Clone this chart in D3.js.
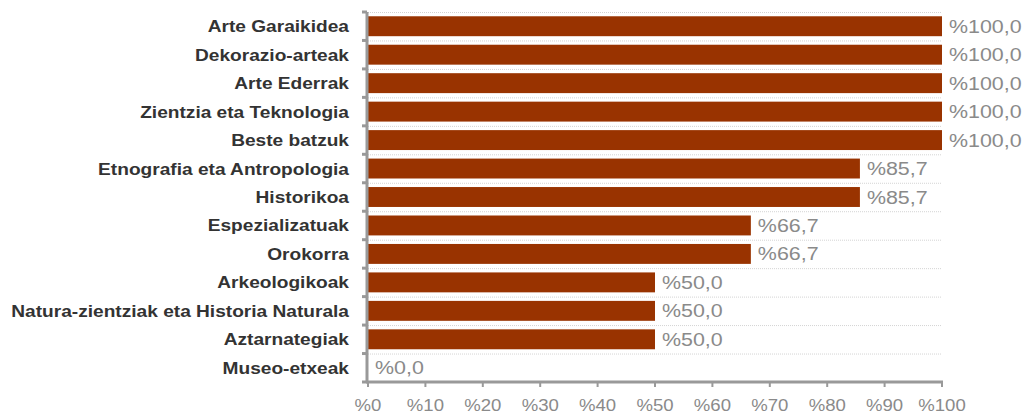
<!DOCTYPE html>
<html>
<head>
<meta charset="utf-8">
<script src="https://cdn.jsdelivr.net/npm/d3@7"></script>
<style>
  body { margin: 0; background: #fff; }
  text { font-family: Arial, "Liberation Sans", sans-serif; }
</style>
</head>
<body>
<div id="chart"></div>
<script>
// data
const categories = [
  "Arte Garaikidea", "Dekorazio-arteak", "Arte Ederrak", "Zientzia eta Teknologia",
  "Beste batzuk", "Etnografia eta Antropologia", "Historikoa", "Espezializatuak",
  "Orokorra", "Arkeologikoak", "Natura-zientziak eta Historia Naturala",
  "Aztarnategiak", "Museo-etxeak"
];
const values = [100, 100, 100, 100, 100, 85.7, 85.7, 66.7, 66.7, 50, 50, 50, 0];
const xTicks = [0, 10, 20, 30, 40, 50, 60, 70, 80, 90, 100];

const W = 1025, H = 414;
const margin = { top: 12, right: 83, bottom: 32, left: 368 },
      width = W - margin.left - margin.right,
      height = H - margin.top - margin.bottom;

const svg = d3.select("#chart").append("svg")
    .attr("width", W).attr("height", H)
  .append("g")
    .attr("transform", `translate(${margin.left},${margin.top})`);

const x = d3.scaleLinear().domain([0, 100]).range([0, width]);
const y = d3.scaleBand().domain(categories).range([0, height]).paddingInner(0.3).paddingOuter(0.15);

// gridlines at band boundaries
const bounds = d3.range(categories.length + 1).map(i => i * height / categories.length);
svg.selectAll(".grid").data(bounds.slice(0, -1)).enter().append("line")
    .attr("x1", 0).attr("x2", width)
    .attr("y1", d => d + 0.5).attr("y2", d => d + 0.5)
    .attr("stroke", "#d4d4d4").attr("stroke-dasharray", "1,1");

// bars
svg.selectAll(".bar").data(values).enter().append("rect")
    .attr("x", 0)
    .attr("y", (d, i) => y(categories[i]))
    .attr("width", d => x(d))
    .attr("height", y.bandwidth())
    .attr("fill", "#993300");

// value labels
svg.selectAll(".val").data(values).enter().append("text")
    .attr("transform", (d, i) => `translate(${x(d) + 7},${y(categories[i]) + y.bandwidth() / 2 + 6.5}) scale(1.19,1)`)
    .attr("font-size", 18)
    .attr("fill", "#8a8a8a")
    .text(d => "%" + d.toFixed(1).replace(".", ","));

// y axis
svg.append("line")
    .attr("x1", -1).attr("x2", -1).attr("y1", 0).attr("y2", height)
    .attr("stroke", "#999").attr("stroke-width", 3);
svg.selectAll(".ytick").data(bounds).enter().append("line")
    .attr("x1", -6).attr("x2", -1).attr("y1", d => d).attr("y2", d => d)
    .attr("stroke", "#999").attr("stroke-width", 3);

// category labels
svg.selectAll(".cat").data(categories).enter().append("text")
    .attr("transform", d => `translate(-19,${y(d) + y.bandwidth() / 2 + 6}) scale(1.125,1)`)
    .attr("text-anchor", "end")
    .attr("font-size", 17)
    .attr("font-weight", "bold")
    .attr("fill", "#333")
    .text(d => d);

// x axis
svg.append("line")
    .attr("x1", -2).attr("x2", width + 1).attr("y1", height).attr("y2", height)
    .attr("stroke", "#999").attr("stroke-width", 3);
svg.selectAll(".xtick").data(xTicks).enter().append("line")
    .attr("x1", d => x(d)).attr("x2", d => x(d))
    .attr("y1", height).attr("y2", height + 5)
    .attr("stroke", "#999").attr("stroke-width", 2);
svg.selectAll(".xlab").data(xTicks).enter().append("text")
    .attr("transform", d => `translate(${x(d)},${height + 29}) scale(1.16,1)`)
    .attr("text-anchor", "middle")
    .attr("font-size", 16)
    .attr("fill", "#8a8a8a")
    .text(d => "%" + d);
</script>
</body>
</html>
